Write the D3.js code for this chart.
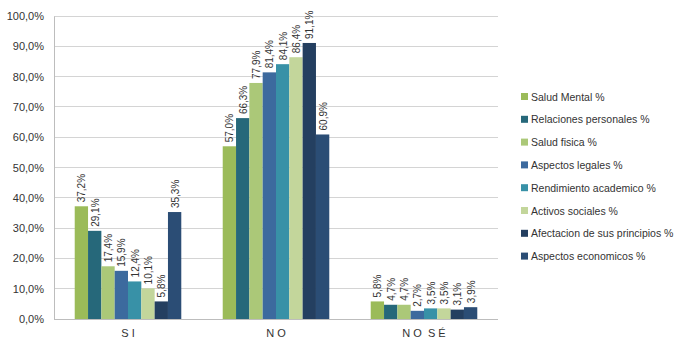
<!DOCTYPE html>
<html><head><meta charset="utf-8">
<script src="https://cdn.jsdelivr.net/npm/d3@7"></script>
<style>body{margin:0;background:#fff}svg{display:block}</style>
</head><body><svg id="c" width="688" height="352"></svg>
<script>
const categories = ["S I", "N O", "N O  S É"];
const seriesNames = ["Salud Mental %","Relaciones personales %","Salud fisica %","Aspectos legales %","Rendimiento academico %","Activos sociales %","Afectacion de sus principios %","Aspectos economicos %"];
const seriesColors = ["#9BBB59","#26687A","#ABC878","#3C6A9E","#3891A7","#C3D69B","#243F60","#2B4D75"];
// values[series][category]
const values = [
  [37.2, 57.0, 5.8],
  [29.1, 66.3, 4.7],
  [17.4, 77.9, 4.7],
  [15.9, 81.4, 2.7],
  [12.4, 84.1, 3.5],
  [10.1, 86.4, 3.5],
  [5.8, 91.1, 3.1],
  [35.3, 60.9, 3.9]
];
const yTicks = [0,10,20,30,40,50,60,70,80,90,100];

const svg = d3.select("#c");
const m = {l:54, r:190, t:16, b:33};
const W = 688, H = 352;
const x0 = d3.scaleBand().domain(categories).range([m.l, W - m.r]).paddingInner(0.28).paddingOuter(0.14);
const x1 = d3.scaleBand().domain(d3.range(seriesNames.length)).range([0, x0.bandwidth()]);
const y = d3.scaleLinear().domain([0,100]).range([H - m.b, m.t]);
const fmt = v => d3.format(".1f")(v).replace(".", ",") + "%";
const font = "Liberation Sans, Arial, sans-serif";

// grid
svg.append("g").selectAll("line").data(yTicks.slice(1)).join("line")
  .attr("x1", m.l).attr("x2", W - m.r).attr("y1", d => y(d)).attr("y2", d => y(d))
  .attr("stroke", "#d4d4d4").attr("stroke-width", 1).attr("shape-rendering","crispEdges");

// y axis
const ya = svg.append("g").attr("transform", `translate(${m.l},0)`)
  .call(d3.axisLeft(y).tickValues(yTicks).tickFormat(d => d3.format(".1f")(d).replace(".", ",") + "%").tickSize(0).tickPadding(10));
ya.select(".domain").attr("stroke", "#bdbdbd");
ya.selectAll("text").attr("font-family", font).attr("font-size", 11).attr("fill", "#333");

// x axis
const xa = svg.append("g").attr("transform", `translate(0,${H - m.b})`)
  .call(d3.axisBottom(x0).tickSize(0).tickPadding(10));
xa.select(".domain").attr("stroke", "#bdbdbd").attr("d", `M${m.l},0.5H${W - m.r}`);
xa.selectAll("text").attr("font-family", font).attr("font-size", 11).attr("fill", "#333").style("white-space","pre").attr("xml:space","preserve");

// bars
const groups = svg.append("g").selectAll("g").data(categories).join("g")
  .attr("transform", d => `translate(${x0(d)},0)`);
groups.each(function(cat, ci) {
  const g = d3.select(this);
  seriesNames.forEach((s, si) => {
    const v = values[si][ci];
    g.append("rect").attr("x", x1(si)).attr("width", x1.bandwidth())
      .attr("y", y(v)).attr("height", y(0) - y(v)).attr("fill", seriesColors[si]);
    const tx = x1(si) + x1.bandwidth()/2 + 4;
    const ty = y(v) - 4;
    g.append("text").attr("transform", `translate(${tx},${ty}) rotate(-90)`)
      .attr("font-family", font).attr("font-size", 10).attr("fill", "#333")
      .text(fmt(v));
  });
});

// legend
const lg = svg.append("g").attr("transform", "translate(521,97)");
seriesNames.forEach((s, i) => {
  const row = lg.append("g").attr("transform", `translate(0,${i*22.8})`);
  row.append("rect").attr("x", 0).attr("y", -4).attr("width", 7).attr("height", 7).attr("fill", seriesColors[i]);
  row.append("text").attr("x", 10).attr("y", 0).attr("dy", "0.35em")
    .attr("font-family", font).attr("font-size", 10.5).attr("fill", "#333").text(s);
});
</script></body></html>
